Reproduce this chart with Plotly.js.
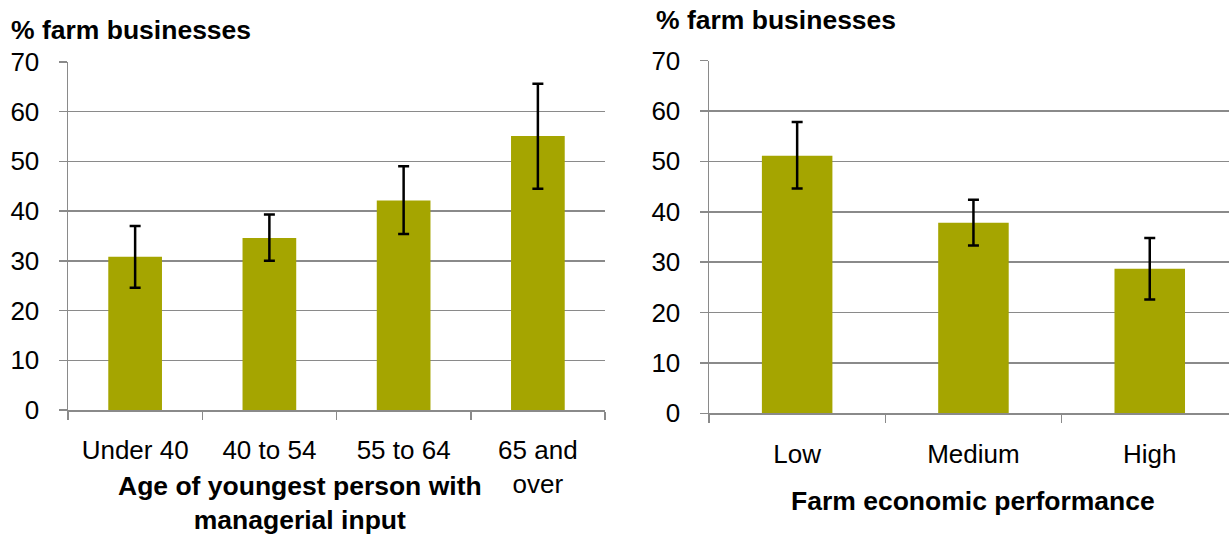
<!DOCTYPE html>
<html>
<head>
<meta charset="utf-8">
<script src="https://cdn.plot.ly/plotly-3.0.1.min.js"></script>
<style>html,body{margin:0;padding:0;background:#fff;}#chart{width:1229px;height:536px;}</style>
</head>
<body>
<div id="chart"></div>
<script>
// Left panel: age of youngest person with managerial input
var ageCategories = ["Under 40", "40 to 54", "55 to 64", "65 and<br>over"];
var ageValues = [30.8, 34.6, 42.1, 55.1];
var ageErrPlus = [6.2, 4.7, 6.9, 10.5];
var ageErrMinus = [6.2, 4.6, 6.7, 10.6];

// Right panel: farm economic performance
var perfCategories = ["Low", "Medium", "High"];
var perfValues = [51.1, 37.8, 28.7];
var perfErrPlus = [6.7, 4.6, 6.1];
var perfErrMinus = [6.5, 4.5, 6.1];

var yTicks = [0, 10, 20, 30, 40, 50, 60, 70];

var W = 1229, H = 536;
var FONT = "Liberation Sans, Arial, sans-serif";
var BAR = "#a5a500";
var GRID = "#8a8a8a";

function px(x){ return x / W; }
function py(y){ return (H - y) / H; }

var traces = [
  {
    type: "bar", x: ageCategories, y: ageValues, xaxis: "x", yaxis: "y",
    marker: {color: BAR}, width: 0.4,
    error_y: {type: "data", symmetric: false, array: ageErrPlus, arrayminus: ageErrMinus,
              color: "#000", thickness: 2.5, width: 5.5},
    hoverinfo: "x+y", showlegend: false
  },
  {
    type: "bar", x: perfCategories, y: perfValues, xaxis: "x2", yaxis: "y2",
    marker: {color: BAR}, width: 0.4,
    error_y: {type: "data", symmetric: false, array: perfErrPlus, arrayminus: perfErrMinus,
              color: "#000", thickness: 2.5, width: 5.5},
    hoverinfo: "x+y", showlegend: false
  }
];

function yaxisDef(dom, anchor){
  return {
    domain: dom, anchor: anchor, range: [0, 70.02],
    tickvals: yTicks, ticktext: yTicks.map(String),
    showgrid: true, gridcolor: GRID, gridwidth: 1.5,
    showline: true, linecolor: GRID, linewidth: 1.5,
    ticks: "outside", ticklen: 8, tickcolor: GRID, tickwidth: 1.5,
    ticklabelstandoff: 14,
    tickfont: {family: FONT, size: 26, color: "#000"},
    zeroline: false, fixedrange: true
  };
}
function xaxisDef(dom, anchor, range, cats, standoff){
  return {
    domain: dom, anchor: anchor, type: "category", range: range,
    categoryorder: "array", categoryarray: cats,
    showgrid: false, showline: true, linecolor: GRID, linewidth: 1.5,
    ticks: "outside", tickson: "boundaries", ticklen: 8, tickcolor: GRID, tickwidth: 1.5,
    ticklabelstandoff: standoff,
    tickfont: {family: FONT, size: 26, color: "#000"},
    zeroline: false, fixedrange: true
  };
}

var layout = {
  width: W, height: H,
  margin: {l: 0, r: 0, t: 0, b: 0},
  paper_bgcolor: "#fff", plot_bgcolor: "#fff",
  bargap: 0.6,
  xaxis: xaxisDef([px(68), px(605)], "y", [-0.5, 3.5], ageCategories, 16),
  yaxis: yaxisDef([py(410), py(61.7)], "x"),
  xaxis2: xaxisDef([px(709), 1], "y2", [-0.5, -0.5 + (1229 - 709) / 176.3], perfCategories, 17),
  yaxis2: yaxisDef([py(413.3), py(60.5)], "x2"),
  annotations: [
    {text: "<b>% farm businesses</b>", xref: "paper", yref: "paper", x: px(9), y: py(30),
     xanchor: "left", yanchor: "middle", showarrow: false, font: {family: FONT, size: 26.5, color: "#000"}},
    {text: "<b>% farm businesses</b>", xref: "paper", yref: "paper", x: px(654), y: py(20),
     xanchor: "left", yanchor: "middle", showarrow: false, font: {family: FONT, size: 26.5, color: "#000"}},
    {text: "<b>Age of youngest person with<br>managerial input</b>", xref: "paper", yref: "paper",
     x: px(300), y: py(503), xanchor: "center", yanchor: "middle", showarrow: false,
     font: {family: FONT, size: 26.5, color: "#000"}},
    {text: "<b>Farm economic performance</b>", xref: "paper", yref: "paper",
     x: px(973), y: py(501), xanchor: "center", yanchor: "middle", showarrow: false,
     font: {family: FONT, size: 26.5, color: "#000"}}
  ]
};

Plotly.newPlot("chart", traces, layout, {displayModeBar: false, staticPlot: true});
</script>
</body>
</html>
